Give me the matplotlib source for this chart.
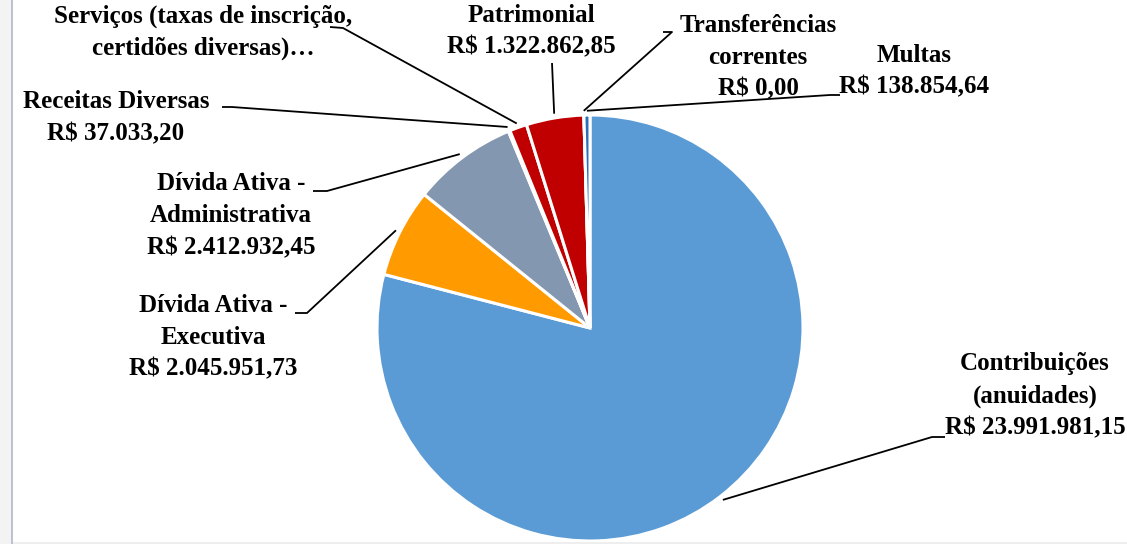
import numpy as np
import matplotlib
matplotlib.use("Agg")
import matplotlib.pyplot as plt
from matplotlib.patches import Rectangle

categories = [
    "Contribuições\n(anuidades)",
    "Dívida Ativa -\nExecutiva",
    "Dívida Ativa -\nAdministrativa",
    "Receitas Diversas",
    "Serviços (taxas de inscrição,\ncertidões diversas)…",
    "Patrimonial",
    "Transferências\ncorrentes",
    "Multas",
]
values = [23991981.15, 2045951.73, 2412932.45, 37033.20, 400000.00,
          1322862.85, 0.00, 138854.64]
value_labels = ["R$ 23.991.981,15", "R$ 2.045.951,73", "R$ 2.412.932,45",
                "R$ 37.033,20", None, "R$ 1.322.862,85", "R$ 0,00",
                "R$ 138.854,64"]
colors = ["#5B9BD5", "#FF9A00", "#8497B0", "#C00000", "#C00000",
          "#C00000", "#1F4E79", "#2E6FB5"]

W, H = 1127, 544
CX, CY, R = 590, 328, 213

fig = plt.figure(figsize=(W / 100, H / 100), dpi=100)
ax = fig.add_axes([0, 0, 1, 1])

# frame remnants
fig.add_artist(Rectangle((0, 0), 11 / W, 1, transform=fig.transFigure,
                         facecolor="#F3F3F3", edgecolor="none"))
fig.add_artist(Rectangle((11 / W, 0), 2 / W, 1, transform=fig.transFigure,
                         facecolor="#B8C4D4", edgecolor="none"))
fig.add_artist(Rectangle((13 / W, 0), 1, 2 / H, transform=fig.transFigure,
                         facecolor="#EEEEEE", edgecolor="none"))

wedges, _ = ax.pie(values, colors=colors, startangle=90, counterclock=False,
                   radius=1.0, center=(0, 0), normalize=True,
                   wedgeprops=dict(edgecolor="white", linewidth=2.2))

ax.set_aspect("auto")
ax.set_xlim((0 - CX) / R, (W - CX) / R)
ax.set_ylim((CY - H) / R, CY / R)
ax.axis("off")


def px(x, y):
    return ((x - CX) / R, (CY - y) / R)


def mid_point(i, r=1.02):
    w = wedges[i]
    a = np.deg2rad((w.theta1 + w.theta2) / 2)
    return (r * np.cos(a), r * np.sin(a))


# label text positions (pixel centres) and leader line paths (pixel)
label_pos = [(1035, 396), (213, 337), (231, 216), (116, 118), (203, 32),
             (531, 31), (758, 57), (914, 71)]
leader = [
    [(932, 437), (945, 437)],
    [(307, 313), (295, 313)],
    [(327, 191), (313, 191)],
    [(232, 107), (222, 107)],
    [(343, 28), (330, 27)],
    [(552, 63)],
    [(672, 32), (663, 32)],
    [(830, 95), (840, 95)],
]

font = dict(family=["Liberation Serif", "DejaVu Serif"], fontweight="bold",
            fontsize=18, color="black")

for i, (cat, vl) in enumerate(zip(categories, value_labels)):
    txt = cat if vl is None else cat + "\n" + vl
    x, y = px(*label_pos[i])
    ax.text(x, y, txt, ha="center", va="center", multialignment="center",
            linespacing=1.5, **font)
    pts = [mid_point(i)] + [px(*p) for p in leader[i]]
    xs, ys = zip(*pts)
    ax.plot(xs, ys, color="black", lw=1.3, solid_capstyle="butt")

fig.savefig("out.png", dpi=100, facecolor="white")
